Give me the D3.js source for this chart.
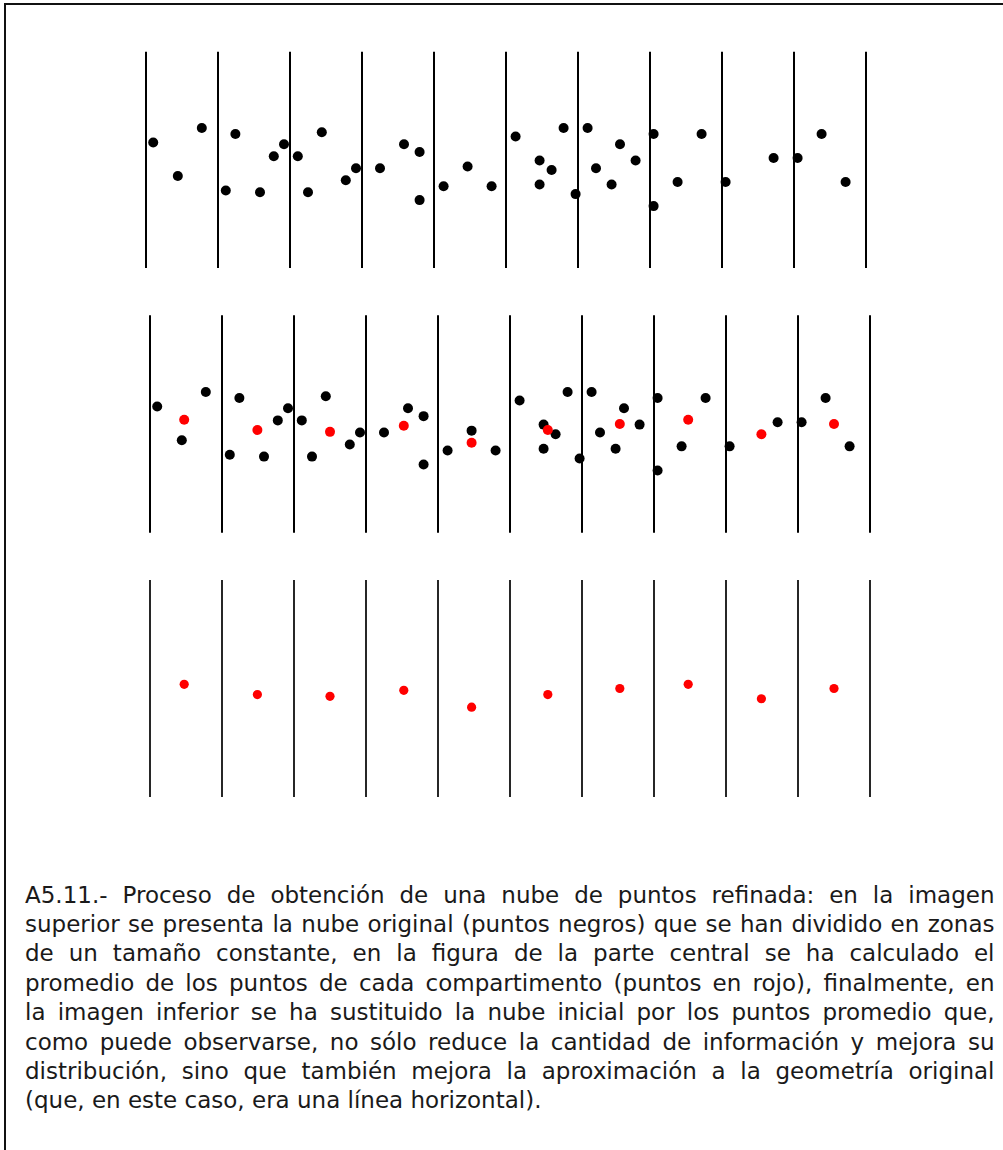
<!DOCTYPE html>
<html>
<head>
<meta charset="utf-8">
<script src="https://cdn.jsdelivr.net/npm/d3@7"></script>
<style>
    html, body { margin: 0; padding: 0; background: #fff; }
    svg { display: block; }
</style>
</head>
<body>
<div id="chart"></div>
<script>

// nube original (puntos negros), unidades de la figura
var cloudX = [1.2, 5.3, 9.3, 13.3, 14.9, 19.0, 21.3, 23.0, 25.3, 27.0,
    29.3, 33.3, 35.0, 39.0, 43.0, 45.6, 45.6, 49.6, 53.6, 57.6,
    61.6, 65.6, 67.6, 65.6, 69.6, 71.6, 73.6, 75.0, 77.6, 79.0,
    81.6, 84.6, 84.6, 88.6, 92.6, 96.6, 104.6, 108.6, 112.6, 116.6];
var cloudY = [2.9, -2.7, 5.3, -5.1, 4.3, -5.4, 0.6, 2.6, 0.6, -5.4,
    4.6, -3.4, -1.4, -1.4, 2.6, 1.3, -6.7, -4.4, -1.1, -4.4,
    3.9, -0.1, -1.7, -4.1, 5.3, -5.7, 5.3, -1.4, -4.1, 2.6,
    -0.1, 4.3, -7.7, -3.7, 4.3, -3.7, 0.3, 0.3, 4.3, -3.7];

// puntos promedio de cada compartimento (rojo)
var meanX = [5.7, 17.9, 30.0, 42.3, 53.6, 66.3, 78.3, 89.7, 101.9, 114.0];
var meanY = [0.7, -1.0, -1.3, -0.3, -3.1, -1.0, 0.0, 0.7, -1.7, 0.0];

// limites de los compartimentos
var binEdges = [0, 12, 24, 36, 48, 60, 72, 84, 96, 108, 120];

var captionLines = [
    "A5.11.- Proceso de obtención de una nube de puntos refinada: en la imagen",
    "superior se presenta la nube original (puntos negros) que se han dividido en zonas",
    "de un tamaño constante, en la figura de la parte central se ha calculado el",
    "promedio de los puntos de cada compartimento (puntos en rojo), finalmente, en",
    "la imagen inferior se ha sustituido la nube inicial por los puntos promedio que,",
    "como puede observarse, no sólo reduce la cantidad de información y mejora su",
    "distribución, sino que también mejora la aproximación a la geometría original",
    "(que, en este caso, era una línea horizontal)."
];

var width = 1003, height = 1150;

var svg = d3.select("#chart").append("svg")
    .attr("width", width)
    .attr("height", height);

// marco (solo se ven los lados superior e izquierdo)
svg.append("rect")
    .attr("x", 5)
    .attr("y", 4)
    .attr("width", 1200)
    .attr("height", 1300)
    .attr("fill", "none")
    .attr("stroke", "#111")
    .attr("stroke-width", 2);

var panels = [
    { left: 146, top: 51.7, bottom: 268, cloud: true, means: false, lineW: 2 },
    { left: 150, top: 315.3, bottom: 532.7, cloud: true, means: true, lineW: 2 },
    { left: 150, top: 580, bottom: 797, cloud: false, means: true, lineW: 1.7 }
];

panels.forEach(function (p) {
    drawPanel(p);
});

function drawPanel(p) {
    var x = d3.scaleLinear().domain([0, 120]).range([p.left, p.left + 720]);
    var y = d3.scaleLinear().domain([-18, 18]).range([p.bottom, p.top]);

    var g = svg.append("g");

    g.selectAll(".edge")
        .data(binEdges)
        .enter().append("line")
        .attr("class", "edge")
        .attr("x1", function (d) { return x(d); })
        .attr("x2", function (d) { return x(d); })
        .attr("y1", y(18))
        .attr("y2", y(-18))
        .attr("stroke", "#000")
        .attr("stroke-width", p.lineW);

    if (p.cloud) {
        g.selectAll(".pt")
            .data(d3.range(cloudX.length))
            .enter().append("circle")
            .attr("class", "pt")
            .attr("cx", function (i) { return x(cloudX[i]); })
            .attr("cy", function (i) { return y(cloudY[i]); })
            .attr("r", 5)
            .attr("fill", "#000");
    }

    if (p.means) {
        g.selectAll(".mean")
            .data(d3.range(meanX.length))
            .enter().append("circle")
            .attr("class", "mean")
            .attr("cx", function (i) { return x(meanX[i]); })
            .attr("cy", function (i) { return y(meanY[i]); })
            .attr("r", p.cloud ? 5 : 4.6)
            .attr("fill", "#ff0000");
    }
}

// pie de figura, justificado linea a linea
var textLeft = 25, textRight = 994.5;
var lineY = d3.scaleLinear().domain([0, 7]).range([902.7, 1108.3]);

var cap = svg.append("g")
    .attr("font-family", "'DejaVu Sans', sans-serif")
    .attr("font-size", 23)
    .attr("fill", "#1a1a1a");

cap.selectAll("text")
    .data(captionLines)
    .enter().append("text")
    .attr("x", textLeft)
    .attr("y", function (d, i) { return lineY(i); })
    .text(function (d) { return d; })
    .each(function (d, i) {
        if (i == captionLines.length - 1)
            return;
        var len = this.getComputedTextLength();
        var spaces = d.split(" ").length - 1;
        var ws = (textRight - textLeft - len) / spaces;
        d3.select(this).attr("word-spacing", ws);
    });

</script>
</body>
</html>
